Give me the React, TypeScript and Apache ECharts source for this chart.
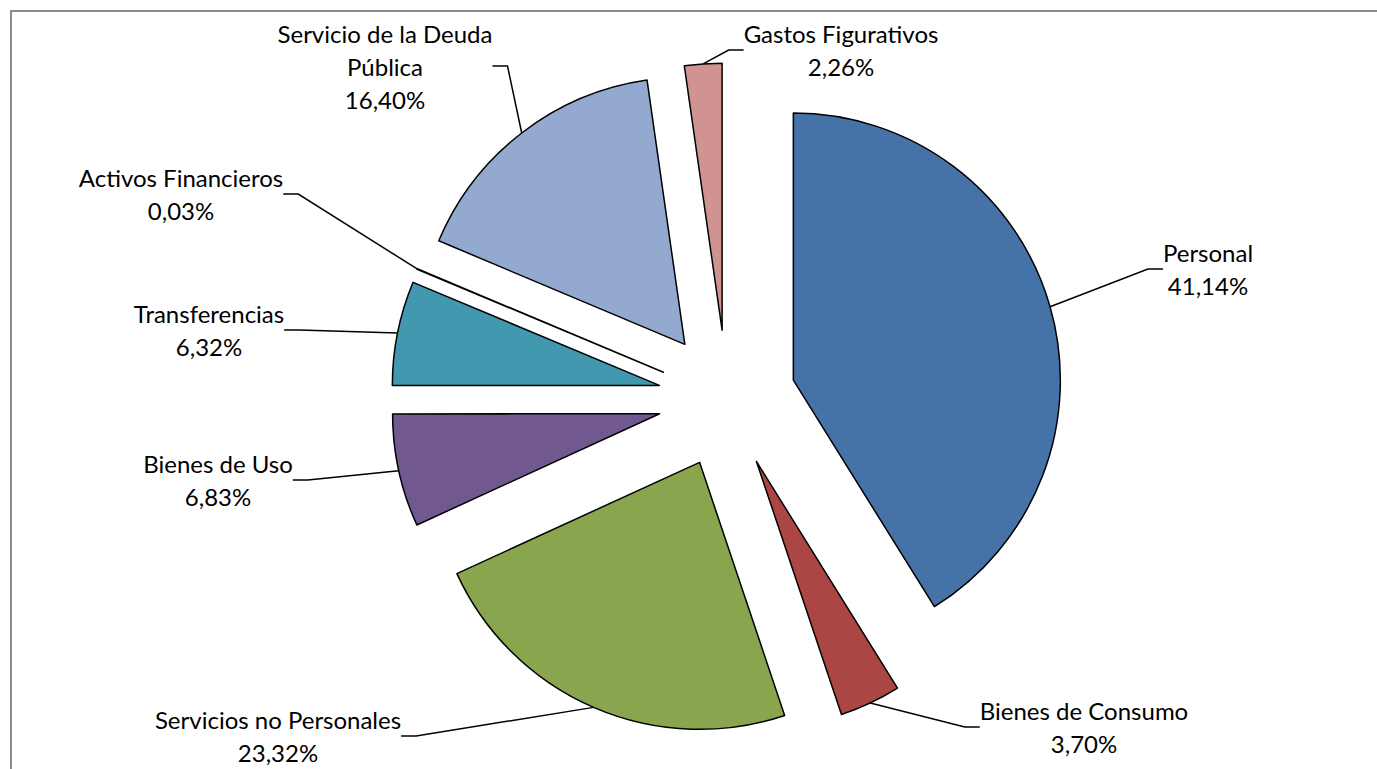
import { useEffect, useRef } from 'react';
import * as echarts from 'echarts';

const categories = [
  'Personal',
  'Bienes de Consumo',
  'Servicios no Personales',
  'Bienes de Uso',
  'Transferencias',
  'Activos Financieros',
  'Servicio de la Deuda Pública',
  'Gastos Figurativos',
];
const shares = [41.14, 3.7, 23.32, 6.83, 6.32, 0.03, 16.4, 2.26];
const colors = ['#4572A7', '#AA4643', '#89A54E', '#71588F', '#4198AF', '#DB843D', '#93A9CF', '#D19392'];
const labelCenters = [
  [1208, 269],
  [1084, 727],
  [278, 736],
  [218, 480],
  [209, 330],
  [181, 194],
  [385, 66],
  [841, 50],
];

const CENTER = [727, 399];
const RADIUS = 267;
const EXPLODE = 69;

const fmt = (v: number) => v.toFixed(2).replace('.', ',') + '%';

export default function App() {
  const ref = useRef<HTMLDivElement>(null);
  useEffect(() => {
    const chart = echarts.init(ref.current!, null, { renderer: 'svg' });
    const total = shares.reduce((a, b) => a + b, 0);
    let cum = 0;
    const series = categories.map((_, i) => {
      const mid = ((cum + shares[i] / 2) / total) * Math.PI * 2;
      cum += shares[i];
      const cx = CENTER[0] + EXPLODE * Math.sin(mid);
      const cy = CENTER[1] - EXPLODE * Math.cos(mid);
      return {
        type: 'pie',
        center: [cx, cy],
        radius: [0, RADIUS],
        startAngle: 90,
        clockwise: true,
        silent: true,
        avoidLabelOverlap: false,
        emphasis: { disabled: true },
        label: {
          color: '#000',
          fontFamily: 'Lato',
          fontSize: 24,
          lineHeight: 33,
          align: 'center',
          formatter: (p: any) =>
            p.name.replace('Deuda ', 'Deuda\n') + '\n' + fmt(p.value),
        },
        labelLine: {
          length: 20,
          length2: 15,
          lineStyle: { color: '#000', width: 1.5 },
        },
        labelLayout: (params: any) => {
          const c = labelCenters[params.dataIndex];
          return { x: c[0], y: c[1], align: 'center', verticalAlign: 'middle' };
        },
        data: categories.map((name, j) => ({
          name,
          value: shares[j],
          itemStyle:
            j === i
              ? { color: colors[j], borderColor: '#000', borderWidth: 1.5 }
              : { color: 'rgba(0,0,0,0)', borderWidth: 0 },
          label: { show: j === i },
          labelLine: { show: j === i },
        })),
      };
    });
    chart.setOption({
      animation: false,
      backgroundColor: '#fff',
      graphic: [
        {
          type: 'rect',
          shape: { x: 11, y: 11, width: 1420, height: 800 },
          style: { fill: 'none', stroke: '#8c8c8c', lineWidth: 2 },
          silent: true,
        },
      ],
      series,
    });
    return () => chart.dispose();
  }, []);
  return (
    <div
      ref={ref}
      style={{ position: 'fixed', left: 0, top: 0, width: 1377, height: 769 }}
    />
  );
}
